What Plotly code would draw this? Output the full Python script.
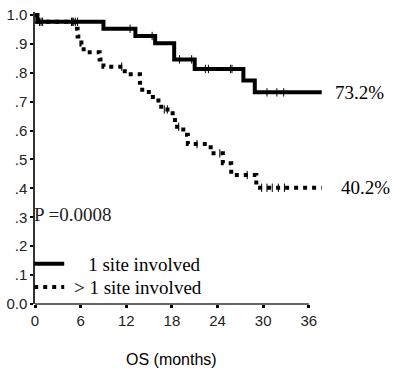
import numpy as np
import plotly.graph_objects as go

# Kaplan-Meier step data (months, survival proportion)
one_site_t = [0, 0.3, 9.0, 13.2, 15.8, 18.3, 21.0, 27.4, 28.9, 37.7]
one_site_s = [1.0, 0.976, 0.952, 0.927, 0.902, 0.846, 0.813, 0.773, 0.732, 0.732]
one_site_censor = [0.6, 1.0, 5.0, 5.3, 5.6, 12.5, 15.4, 19.0, 20.6, 22.4, 22.8, 25.7, 25.9, 30.5, 31.8, 32.7]

multi_site_t = [0, 0.3, 5.2, 5.6, 6.1, 6.4, 8.5, 9.0, 11.8, 13.8, 14.1, 15.5, 16.6,
                18.1, 18.4, 19.5, 20.1, 23.1, 24.7, 25.8, 29.1, 37.7]
multi_site_s = [1.0, 0.976, 0.952, 0.925, 0.898, 0.871, 0.846, 0.821, 0.795, 0.765, 0.733,
                0.704, 0.673, 0.644, 0.613, 0.585, 0.553, 0.521, 0.487, 0.446, 0.402, 0.402]
multi_site_censor = [0.8, 4.8, 5.0, 11.4, 17.0, 17.4, 18.9, 21.3, 24.3, 27.9, 29.8, 30.5, 31.2, 32.0, 32.8]

series_names = ["\u00a0\u00a0\u00a0\u00a01 site involved", "\u00a0> 1 site involved"]
end_labels = ["73.2%", "40.2%"]
p_text = "P =0.0008"

y_tickvals = [0, 0.1, 0.2, 0.3, 0.4, 0.5, 0.6, 0.7, 0.8, 0.9, 1.0]
y_ticktext = ["0.0", ".1", ".2", ".3", ".4", ".5", ".6", ".7", ".8", ".9", "1.0"]
x_tickvals = [0, 6, 12, 18, 24, 30, 36]

SERIF = "Liberation Serif"
SANS = "Liberation Sans"


def step_value(ts, ss, x):
    idx = np.searchsorted(np.array(ts), np.array(x), side="right") - 1
    return [ss[i] for i in idx]


fig = go.Figure()
fig.add_trace(go.Scatter(x=one_site_t, y=one_site_s, mode="lines", line_shape="hv",
                         line=dict(color="black", width=4), name=series_names[0], legend="legend"))
fig.add_trace(go.Scatter(x=multi_site_t, y=multi_site_s, mode="lines", line_shape="hv",
                         line=dict(color="black", width=4, dash="4px,5px"), name=series_names[1],
                         legend="legend2"))
fig.add_trace(go.Scatter(x=one_site_censor, y=step_value(one_site_t, one_site_s, one_site_censor),
                         mode="markers", showlegend=False,
                         marker=dict(symbol="line-ns", size=6, line=dict(color="black", width=1))))
fig.add_trace(go.Scatter(x=multi_site_censor, y=step_value(multi_site_t, multi_site_s, multi_site_censor),
                         mode="markers", showlegend=False,
                         marker=dict(symbol="line-ns", size=6, line=dict(color="black", width=1))))

# end labels
fig.add_annotation(x=one_site_t[-1], y=one_site_s[-1], text=end_labels[0], showarrow=False,
                   xanchor="left", yanchor="middle", xshift=11, font=dict(family=SERIF, size=19, color="black"))
fig.add_annotation(x=multi_site_t[-1], y=multi_site_s[-1], text=end_labels[1], showarrow=False,
                   xanchor="left", yanchor="middle", xshift=17, font=dict(family=SERIF, size=19, color="black"))
fig.add_annotation(x=0, y=0.31, text=p_text, showarrow=False, xanchor="left", yanchor="middle",
                   xshift=-3, font=dict(family=SERIF, size=19, color="#222"))
# x-axis title centered on 0-36
fig.add_annotation(x=18, xref="x", y=0, yref="paper", yshift=-55, text="OS (months)", showarrow=False,
                   xanchor="center", yanchor="middle", font=dict(family=SANS, size=16, color="black"))
# x axis line only to 36
fig.add_shape(type="line", xref="x", yref="paper", x0=0, x1=36, y0=0, y1=0,
              line=dict(color="#333", width=1.5))

legend_common = dict(xanchor="left", yanchor="middle", bgcolor="rgba(0,0,0,0)",
                     font=dict(family=SERIF, size=19, color="black"))

fig.update_layout(
    width=400, height=377,
    margin=dict(l=35, r=76, t=12, b=73, autoexpand=False),
    plot_bgcolor="white", paper_bgcolor="white",
    showlegend=True,
    legend=dict(x=-0.02, y=0.137, **legend_common),
    legend2=dict(x=-0.02, y=0.058, **legend_common),
    xaxis=dict(range=[0, 38], tickvals=x_tickvals, ticks="outside", ticklen=3, tickwidth=3,
               tickcolor="black", showline=False, showgrid=False, zeroline=False,
               tickfont=dict(family=SANS, size=15, color="#222")),
    yaxis=dict(range=[0, 1.01], tickvals=y_tickvals, ticktext=y_ticktext, ticks="outside",
               ticklen=3, tickwidth=2, tickcolor="black", showline=True, linecolor="#333",
               linewidth=1.5, showgrid=False, zeroline=False,
               tickfont=dict(family=SANS, size=15, color="#222")),
)

fig.write_html("out.html", config={"displayModeBar": False},
               post_script="document.body.style.margin='0px';")
